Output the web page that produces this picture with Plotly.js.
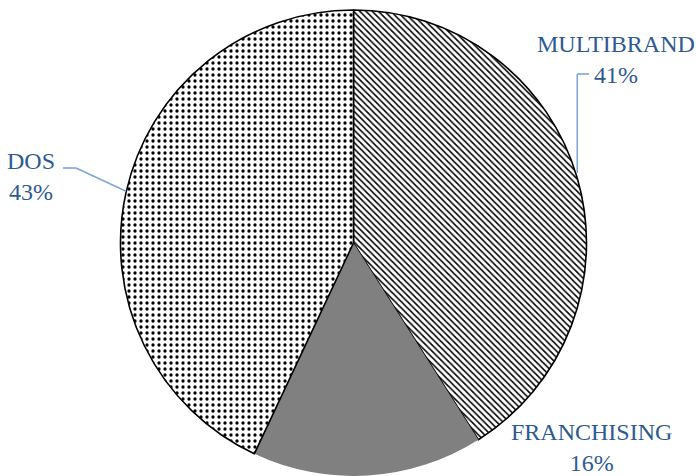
<!DOCTYPE html>
<html>
<head>
<meta charset="utf-8">
<script src="https://cdn.plot.ly/plotly-3.0.1.min.js"></script>
<style>
  html, body { margin: 0; padding: 0; background: #ffffff; }
  #chart { width: 696px; height: 476px; }
</style>
</head>
<body>
<div id="chart"></div>
<script>
// Sales channel shares
const channels = ['MULTIBRAND', 'FRANCHISING', 'DOS'];
const shares = [41, 16, 43];

// Page geometry (pixels)
const W = 696, H = 476;
const cx = 353.5, cy = 243, R = 233;

const toX = px => px / W;
const toY = py => 1 - py / H;

const total = shares.reduce((a, b) => a + b, 0);
const pctText = shares.map(v => Math.round(v / total * 100) + '%');

// Mid-angle of each slice (clockwise from 12 o'clock) and its rim point
const rim = [];
let acc = 0;
shares.forEach(v => {
  const mid = (acc + v / 2) / total * 2 * Math.PI;
  rim.push([cx + R * Math.sin(mid), cy - R * Math.cos(mid)]);
  acc += v;
});

const labelColor = '#2E5A93';
const leaderColor = '#7EA6D8';
const font = { family: 'Liberation Serif, Times New Roman, serif', size: 24, color: labelColor };

const trace = {
  type: 'pie',
  labels: channels,
  values: shares,
  sort: false,
  direction: 'clockwise',
  rotation: 0,
  textinfo: 'none',
  hoverinfo: 'skip',
  showlegend: false,
  domain: { x: [toX(cx - R), toX(cx + R)], y: [toY(cy + R), toY(cy - R)] },
  marker: {
    colors: ['#ffffff', '#808080', '#ffffff'],
    line: { color: ['#000000', '#808080', '#000000'], width: [1.6, 0, 1.6] },
    pattern: {
      shape: ['\\', '', '.'],
      fgcolor: '#000000',
      bgcolor: ['#ffffff', '#808080', '#ffffff'],
      size: [4.4, 8, 6],
      solidity: [0.35, 0.2, 0.24]
    }
  }
};

// Leader lines from slice rims to their labels
const seg = (x0, y0, x1, y1) => ({
  type: 'line', xref: 'paper', yref: 'paper',
  x0: toX(x0), y0: toY(y0), x1: toX(x1), y1: toY(y1),
  line: { color: leaderColor, width: 1.6 }
});

const mb = rim[0], dos = rim[2];
const shapes = [
  seg(mb[0], mb[1] - 5, mb[0], 74),
  seg(mb[0], 74, 589, 74),
  seg(dos[0], dos[1] - 1, 76, 168),
  seg(76, 168, 63, 168)
];

const ann = (i, x, y) => ({
  xref: 'paper', yref: 'paper', x: toX(x), y: toY(y),
  xanchor: 'center', yanchor: 'middle', showarrow: false,
  borderpad: 0,
  text: channels[i] + '<br>' + pctText[i], font: font, align: 'center'
});

const layout = {
  width: W, height: H,
  margin: { l: 0, r: 0, t: 0, b: 0 },
  paper_bgcolor: '#ffffff',
  plot_bgcolor: '#ffffff',
  shapes: shapes,
  annotations: [
    ann(0, 616, 59),
    ann(1, 591, 447),
    ann(2, 31, 176)
  ]
};

Plotly.newPlot('chart', [trace], layout, { displayModeBar: false, staticPlot: true });
</script>
</body>
</html>
